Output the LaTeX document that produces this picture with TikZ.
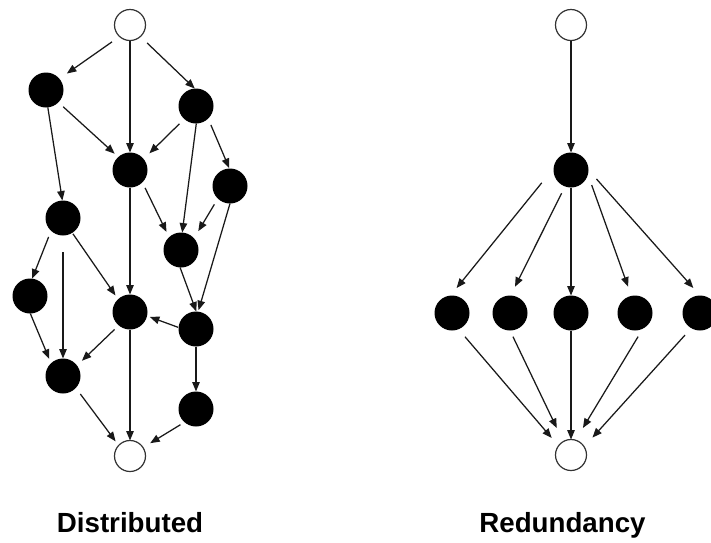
\documentclass[tikz,border=0pt]{standalone}
\usepackage{fontspec}
\setmainfont{Liberation Sans}
\usetikzlibrary{arrows.meta}
\tikzset{
  blk/.style={circle, fill=black, minimum size=35pt, inner sep=0pt, outer sep=0pt},
  wht/.style={circle, draw=black!80, line width=1.2pt, fill=white, minimum size=31pt, inner sep=0pt, outer sep=0pt},
  arr/.style={-{Triangle[length=9.5pt,width=7.5pt]}, line width=1.25pt, draw=black!90},
  lbl/.style={font=\fontsize{27.7}{30}\selectfont\bfseries, anchor=base, inner sep=0pt},
}
\begin{document}
\begin{tikzpicture}[x=1pt, y=-1pt]
\useasboundingbox (0,0) rectangle (711,542);
\clip (0,0) rectangle (711,542);
\fill[white] (0,0) rectangle (711,542);
% ---------- Distributed ----------
\node[wht] (S) at (130,25) {};
\node[blk] (A) at (46,90) {};
\node[blk] (B) at (196,106) {};
\node[blk] (C) at (130,170) {};
\node[blk] (D) at (230,186) {};
\node[blk] (E) at (63,218) {};
\node[blk] (F) at (181,250) {};
\node[blk] (G) at (30,296) {};
\node[blk] (H) at (130,312) {};
\node[blk] (I) at (196,329) {};
\node[blk] (J) at (63,376) {};
\node[blk] (K) at (196,409) {};
\node[wht] (T) at (130,456) {};

\draw[arr, shorten <=9.3pt, shorten >=9.1pt] (S.228) -- (A.40);
\draw[arr] (S.south) -- (C.north);
\draw[arr, shorten <=9.3pt] (S.312) -- (B.94);
\draw[arr, shorten <=6.5pt, shorten >=4.9pt] (A.315) -- (C.132);
\draw[arr] (A.276) -- (E.92);
\draw[arr, shorten <=6.9pt, shorten >=8.1pt] (B.228) -- (C.39);
\draw[arr] (B.271) -- (F.86);
\draw[arr, shorten <=6.9pt, shorten >=0.5pt] (B.314) -- (D.92);
\draw[arr, shorten <=6.1pt, shorten >=5.9pt] (C.315) -- (F.133);
\draw[arr] (C.south) -- (H.north);
\draw[arr, shorten <=6.7pt, shorten >=8.3pt] (D.226) -- (F.42);
\draw[arr, shorten >=1.5pt] (D.270) -- (I.83);
\draw[arr, shorten <=6.6pt] (E.227) -- (G.83);
\draw[arr, shorten <=16.7pt] (E.south) -- (J.north);
\draw[arr, shorten <=1.2pt, shorten >=4.6pt] (E.302) -- (H.133);
\draw[arr] (F.267) -- (I.89);
\draw[arr, shorten <=0.6pt, shorten >=3pt] (I.175) -- (H.347);
\draw[arr] (I.south) -- (K.north);
\draw[arr, shorten >=4.7pt] (G.271) -- (J.133);
\draw[arr, shorten <=5.8pt, shorten >=6.8pt] (H.230) -- (J.37);
\draw[arr] (H.south) -- (T.north);
\draw[arr, shorten <=7.6pt, shorten >=5.1pt] (J.317) -- (T.137);
\draw[arr, shorten <=4.8pt, shorten >=8.4pt] (K.229) -- (T.33);

% ---------- Redundancy ----------
\node[wht] (S2) at (571,25) {};
\node[blk] (M) at (571,170) {};
\node[blk] (R1) at (452,313) {};
\node[blk] (R2) at (510,313) {};
\node[blk] (R3) at (571,313) {};
\node[blk] (R4) at (635,313) {};
\node[blk] (R5) at (700,313) {};
\node[wht] (T2) at (571,455) {};

\draw[arr] (S2.south) -- (M.north);
\draw[arr, shorten <=18.9pt, shorten >=9.7pt] (M.174) -- (R1.95);
\draw[arr, shorten <=7.6pt, shorten >=9.8pt] (M.250) -- (R2.88);
\draw[arr] (M.south) -- (R3.north);
\draw[arr, shorten <=11.2pt, shorten >=9.8pt] (M.345) -- (R4.102);
\draw[arr, shorten <=12pt, shorten >=10pt] (M.east) -- (R5.north);
\draw[arr, shorten <=9.9pt, shorten >=10.4pt] (R1.292) -- (T2.144);
\draw[arr, shorten <=6.9pt, shorten >=15pt] (R2.270) -- (T2.120);
\draw[arr] (R3.south) -- (T2.north);
\draw[arr, shorten <=9.4pt, shorten >=14.3pt] (R4.297) -- (T2.73);
\draw[arr, shorten <=9.4pt, shorten >=12.4pt] (R5.240) -- (T2.32);

% ---------- Labels ----------
\node[lbl] (L1) at (130,532) {Distributed};
\node[lbl] (L2) at (562.5,532) {Redundancy};
\end{tikzpicture}
\end{document}
